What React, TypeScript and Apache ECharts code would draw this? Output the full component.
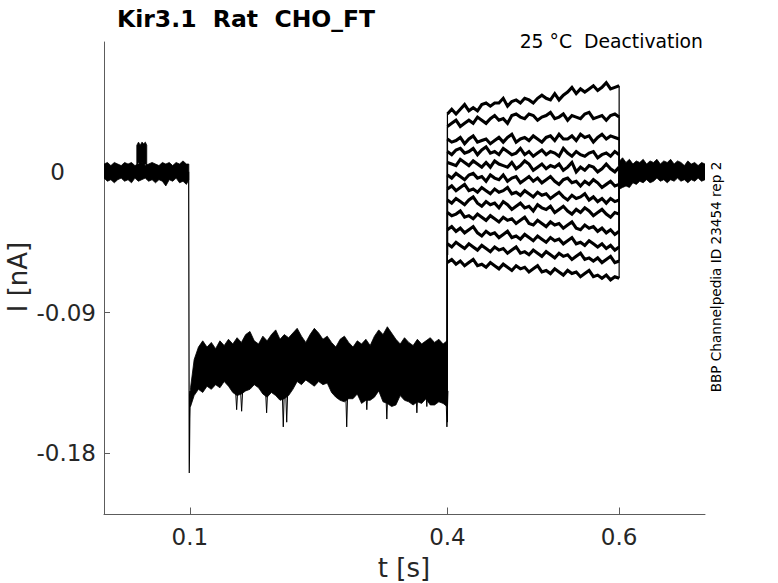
import React, { useEffect, useRef } from "react";
import * as echarts from "echarts";

// ---- axis ticks ----
const xTicks = [0.1, 0.4, 0.6];
const yTicks = [-0.18, -0.09, 0];

// ---- holding period (0 - 0.1 s): envelope of all sweeps ----
const holdTimes = [0.0, 0.004, 0.008, 0.012, 0.016, 0.02, 0.024, 0.028, 0.032, 0.036, 0.04, 0.044, 0.048, 0.052, 0.056, 0.06, 0.064, 0.068, 0.072, 0.076, 0.08, 0.084, 0.088, 0.092, 0.096, 0.0988];
const holdUpper = [0.005, 0.006, 0.004, 0.006, 0.005, 0.004, 0.006, 0.005, 0.006, 0.004, 0.005, 0.006, 0.004, 0.005, 0.006, 0.005, 0.004, 0.006, 0.005, 0.006, 0.004, 0.006, 0.005, 0.007, 0.005, 0.005];
const holdLower = [-0.004, -0.006, -0.005, -0.007, -0.005, -0.004, -0.006, -0.005, -0.007, -0.004, -0.006, -0.005, -0.004, -0.006, -0.005, -0.007, -0.005, -0.006, -0.009, -0.005, -0.006, -0.004, -0.007, -0.006, -0.008, -0.005];

// small bump during holding
const bumpTimes = [0.0382, 0.0402, 0.0422, 0.0442, 0.0462, 0.0482, 0.0498];
const bumpUpper = [0.017, 0.019, 0.017, 0.019, 0.018, 0.019, 0.017];
const bumpLower = [0.004, 0.006, 0.005, 0.006, 0.004, 0.005, 0.004];

// ---- capacitive spike at 0.1 s ----
const spikeTimes = [0.0986, 0.0993, 0.0999, 0.1006];
const spikeValues = [0.0, -0.1925, -0.158, -0.14];

// ---- hyperpolarising step (0.1 - 0.4 s): envelope of all sweeps ----
const bandTimes = [0.1008, 0.105, 0.11, 0.115, 0.12, 0.125, 0.13, 0.135, 0.14, 0.145, 0.15, 0.155, 0.16, 0.165, 0.17, 0.175, 0.18, 0.185, 0.19, 0.195, 0.2, 0.205, 0.21, 0.215, 0.22, 0.225, 0.23, 0.235, 0.24, 0.245, 0.25, 0.255, 0.26, 0.265, 0.27, 0.275, 0.28, 0.285, 0.29, 0.295, 0.3, 0.305, 0.31, 0.315, 0.32, 0.325, 0.33, 0.335, 0.34, 0.345, 0.35, 0.355, 0.36, 0.365, 0.37, 0.375, 0.38, 0.385, 0.39, 0.395, 0.3995];
const bandUpper = [-0.138, -0.12, -0.112, -0.108, -0.112, -0.109, -0.113, -0.108, -0.111, -0.107, -0.11, -0.106, -0.109, -0.104, -0.102, -0.108, -0.11, -0.105, -0.108, -0.104, -0.101, -0.107, -0.104, -0.106, -0.103, -0.1, -0.105, -0.109, -0.104, -0.1, -0.103, -0.107, -0.105, -0.109, -0.112, -0.107, -0.105, -0.109, -0.112, -0.108, -0.11, -0.107, -0.111, -0.105, -0.101, -0.104, -0.099, -0.103, -0.107, -0.11, -0.106, -0.109, -0.111, -0.107, -0.11, -0.108, -0.106, -0.109, -0.107, -0.11, -0.108];
const bandLower = [-0.15, -0.143, -0.139, -0.141, -0.137, -0.139, -0.136, -0.138, -0.134, -0.137, -0.141, -0.143, -0.142, -0.14, -0.139, -0.136, -0.138, -0.142, -0.144, -0.141, -0.143, -0.146, -0.145, -0.143, -0.139, -0.134, -0.136, -0.133, -0.135, -0.137, -0.134, -0.136, -0.135, -0.141, -0.144, -0.146, -0.147, -0.145, -0.145, -0.142, -0.148, -0.146, -0.146, -0.144, -0.14, -0.147, -0.148, -0.15, -0.149, -0.143, -0.146, -0.147, -0.149, -0.147, -0.148, -0.145, -0.149, -0.149, -0.147, -0.148, -0.15];

// single-sweep downward excursions during the step
const dipTimes = [0.1545, 0.1603, 0.1894, 0.2088, 0.2128, 0.2827, 0.3061, 0.3294, 0.3644, 0.376, 0.3994];
const dipDepths = [-0.152, -0.153, -0.154, -0.163, -0.16, -0.163, -0.152, -0.158, -0.154, -0.15, -0.163];
const dipFrom = -0.14;

// ---- deactivation test pulses (0.4 - 0.6 s): one trace per sweep ----
const stepTimes = [0.4, 0.405, 0.41, 0.415, 0.42, 0.425, 0.43, 0.435, 0.44, 0.445, 0.45, 0.455, 0.46, 0.465, 0.47, 0.475, 0.48, 0.485, 0.49, 0.495, 0.5, 0.505, 0.51, 0.515, 0.52, 0.525, 0.53, 0.535, 0.54, 0.545, 0.55, 0.555, 0.56, 0.565, 0.57, 0.575, 0.58, 0.585, 0.59, 0.595, 0.6];
const sweep1 = [0.037, 0.04, 0.037, 0.04, 0.043, 0.039, 0.041, 0.039, 0.043, 0.044, 0.042, 0.044, 0.044, 0.047, 0.042, 0.045, 0.046, 0.044, 0.047, 0.046, 0.044, 0.047, 0.049, 0.047, 0.046, 0.05, 0.046, 0.049, 0.051, 0.054, 0.05, 0.053, 0.051, 0.053, 0.055, 0.052, 0.054, 0.057, 0.053, 0.054, 0.055];
const sweep2 = [0.029, 0.031, 0.033, 0.029, 0.031, 0.033, 0.031, 0.035, 0.033, 0.031, 0.034, 0.036, 0.033, 0.034, 0.031, 0.036, 0.037, 0.035, 0.034, 0.037, 0.036, 0.033, 0.035, 0.036, 0.038, 0.034, 0.035, 0.037, 0.033, 0.036, 0.035, 0.034, 0.037, 0.038, 0.034, 0.035, 0.036, 0.033, 0.036, 0.037, 0.035];
const sweep3 = [0.021, 0.019, 0.02, 0.022, 0.018, 0.021, 0.023, 0.019, 0.02, 0.021, 0.018, 0.02, 0.022, 0.019, 0.022, 0.024, 0.019, 0.021, 0.022, 0.02, 0.023, 0.021, 0.019, 0.022, 0.023, 0.02, 0.024, 0.021, 0.021, 0.023, 0.02, 0.024, 0.022, 0.023, 0.019, 0.022, 0.024, 0.021, 0.023, 0.022, 0.021];
const sweep4 = [0.013, 0.011, 0.014, 0.015, 0.012, 0.013, 0.015, 0.011, 0.014, 0.016, 0.012, 0.013, 0.011, 0.015, 0.013, 0.011, 0.012, 0.015, 0.011, 0.013, 0.01, 0.012, 0.014, 0.011, 0.013, 0.012, 0.01, 0.015, 0.012, 0.01, 0.013, 0.011, 0.01, 0.012, 0.013, 0.009, 0.011, 0.012, 0.01, 0.013, 0.011];
const sweep5 = [0.006, 0.005, 0.004, 0.008, 0.006, 0.004, 0.007, 0.005, 0.003, 0.006, 0.003, 0.007, 0.005, 0.004, 0.003, 0.006, 0.002, 0.004, 0.007, 0.005, 0.001, 0.003, 0.005, 0.002, 0.004, 0.003, 0.005, 0.001, 0.003, 0.006, 0.0, 0.003, 0.001, 0.004, 0.003, 0.0, 0.002, 0.005, 0.002, 0.0, 0.003];
const sweep6 = [-0.002, -0.004, -0.001, -0.003, -0.005, -0.002, -0.001, -0.004, -0.003, -0.006, -0.002, -0.004, -0.005, -0.002, -0.006, -0.004, -0.003, -0.007, -0.005, -0.003, -0.006, -0.004, -0.007, -0.005, -0.003, -0.006, -0.008, -0.005, -0.004, -0.007, -0.006, -0.009, -0.006, -0.008, -0.005, -0.007, -0.01, -0.008, -0.006, -0.009, -0.008];
const sweep7 = [-0.011, -0.009, -0.012, -0.01, -0.008, -0.012, -0.011, -0.013, -0.01, -0.012, -0.014, -0.011, -0.013, -0.012, -0.01, -0.014, -0.013, -0.015, -0.012, -0.014, -0.016, -0.013, -0.015, -0.014, -0.017, -0.015, -0.013, -0.016, -0.018, -0.015, -0.017, -0.016, -0.014, -0.018, -0.016, -0.019, -0.017, -0.02, -0.017, -0.019, -0.018];
const sweep8 = [-0.018, -0.02, -0.017, -0.019, -0.021, -0.018, -0.016, -0.02, -0.022, -0.019, -0.021, -0.02, -0.023, -0.019, -0.021, -0.024, -0.022, -0.02, -0.023, -0.022, -0.025, -0.021, -0.023, -0.024, -0.022, -0.026, -0.024, -0.022, -0.025, -0.027, -0.024, -0.026, -0.023, -0.025, -0.028, -0.026, -0.024, -0.027, -0.029, -0.026, -0.027];
const sweep9 = [-0.026, -0.028, -0.027, -0.025, -0.029, -0.028, -0.03, -0.027, -0.029, -0.031, -0.028, -0.03, -0.032, -0.029, -0.031, -0.03, -0.033, -0.031, -0.029, -0.033, -0.034, -0.031, -0.033, -0.035, -0.032, -0.034, -0.033, -0.036, -0.034, -0.032, -0.036, -0.037, -0.034, -0.036, -0.035, -0.038, -0.036, -0.039, -0.037, -0.04, -0.038];
const sweep10 = [-0.037, -0.035, -0.038, -0.036, -0.039, -0.037, -0.035, -0.039, -0.041, -0.038, -0.04, -0.039, -0.042, -0.04, -0.038, -0.042, -0.041, -0.043, -0.04, -0.042, -0.044, -0.041, -0.043, -0.045, -0.042, -0.044, -0.043, -0.046, -0.044, -0.042, -0.046, -0.045, -0.047, -0.044, -0.046, -0.048, -0.046, -0.049, -0.047, -0.05, -0.048];
const sweep11 = [-0.046, -0.048, -0.045, -0.047, -0.049, -0.046, -0.048, -0.05, -0.047, -0.049, -0.051, -0.048, -0.05, -0.049, -0.052, -0.05, -0.048, -0.052, -0.051, -0.053, -0.05, -0.052, -0.054, -0.051, -0.053, -0.055, -0.052, -0.054, -0.053, -0.056, -0.054, -0.052, -0.056, -0.055, -0.057, -0.055, -0.058, -0.056, -0.054, -0.058, -0.057];
const sweep12 = [-0.058, -0.056, -0.059, -0.057, -0.06, -0.058, -0.056, -0.06, -0.059, -0.061, -0.058, -0.06, -0.062, -0.059, -0.061, -0.063, -0.06, -0.062, -0.061, -0.064, -0.062, -0.06, -0.064, -0.063, -0.065, -0.062, -0.064, -0.066, -0.063, -0.065, -0.064, -0.067, -0.065, -0.063, -0.067, -0.066, -0.068, -0.066, -0.069, -0.067, -0.068];
const sweeps = [sweep1, sweep2, sweep3, sweep4, sweep5, sweep6, sweep7, sweep8, sweep9, sweep10, sweep11, sweep12];
const preStepLevels = [-0.118, -0.125, -0.13, -0.122, -0.135, -0.128, -0.14, -0.126, -0.145, -0.132, -0.15, -0.16];
const postStepLevels = [0.004, -0.003, 0.002, -0.005, 0.001, -0.002, 0.003, -0.004, 0.0, -0.006, 0.002, -0.003];

// ---- return to holding (0.6 - 0.7 s): envelope of all sweeps ----
const recTimes = [0.6005, 0.604, 0.608, 0.612, 0.616, 0.62, 0.624, 0.628, 0.632, 0.636, 0.64, 0.644, 0.648, 0.652, 0.656, 0.66, 0.664, 0.668, 0.672, 0.676, 0.68, 0.684, 0.688, 0.692, 0.696, 0.7];
const recUpper = [0.007, 0.009, 0.006, 0.008, 0.005, 0.007, 0.006, 0.008, 0.005, 0.007, 0.006, 0.008, 0.005, 0.007, 0.006, 0.008, 0.005, 0.007, 0.006, 0.004, 0.007, 0.005, 0.006, 0.004, 0.006, 0.005];
const recLower = [-0.011, -0.01, -0.009, -0.01, -0.007, -0.008, -0.006, -0.007, -0.005, -0.007, -0.006, -0.004, -0.006, -0.005, -0.007, -0.005, -0.006, -0.004, -0.006, -0.005, -0.007, -0.005, -0.006, -0.004, -0.006, -0.005];

const FONT = '"DejaVu Sans", "Noto Sans", sans-serif';
const TEXT = "#262626";
const AXIS = "#5c5c5c";
const TICK_FONT = 23;

function bandSeries(times: number[], upper: number[], lower: number[]) {
  const data = times.map((t, i) => [t, upper[i], lower[i]]);
  return {
    type: "custom",
    silent: true,
    clip: true,
    data,
    encode: { x: 0, y: [1, 2] },
    renderItem: (params: any, api: any) => {
      if (params.dataIndex !== 0) return null;
      const pts: number[][] = [];
      for (let i = 0; i < data.length; i++) pts.push(api.coord([data[i][0], data[i][1]]));
      for (let i = data.length - 1; i >= 0; i--) pts.push(api.coord([data[i][0], data[i][2]]));
      return {
        type: "polygon",
        shape: { points: pts },
        style: { fill: "#000", stroke: "#000", lineWidth: 0.8 },
      };
    },
  };
}

function lineSeries(points: number[][], width = 1.1) {
  return {
    type: "line",
    silent: true,
    symbol: "none",
    data: points,
    lineStyle: { color: "#000", width, join: "miter" },
    z: 3,
  };
}

export default function App() {
  const ref = useRef<HTMLDivElement>(null);

  useEffect(() => {
    document.body.style.margin = "0";
    if (!ref.current) return;
    const chart = echarts.init(ref.current, null, { renderer: "svg" });

    const series: any[] = [];
    series.push(bandSeries(holdTimes, holdUpper, holdLower));
    series.push(bandSeries(bumpTimes, bumpUpper, bumpLower));
    series.push(bandSeries(bandTimes, bandUpper, bandLower));
    series.push(bandSeries(recTimes, recUpper, recLower));
    series.push(lineSeries(spikeTimes.map((t, i) => [t, spikeValues[i]]), 1.2));
    dipTimes.forEach((t, i) => {
      series.push(lineSeries([[t - 0.0012, dipFrom], [t, dipDepths[i]], [t + 0.0012, dipFrom]], 1));
    });
    sweeps.forEach((vals, k) => {
      series.push(lineSeries([[stepTimes[0], preStepLevels[k]], [stepTimes[0], vals[0]]], 1.2));
      series.push(lineSeries(stepTimes.map((t, i) => [t, vals[i]]), 3.1));
      series.push(lineSeries([[stepTimes[stepTimes.length - 1], vals[vals.length - 1]], [stepTimes[stepTimes.length - 1], postStepLevels[k]]], 1.2));
    });

    chart.setOption({
      animation: false,
      backgroundColor: "#fff",
      grid: { left: 104, right: 73, top: 42, bottom: 68.5, containLabel: false },
      xAxis: {
        type: "value",
        min: 0,
        max: 0.7,
        axisLine: { show: true, onZero: false, lineStyle: { color: AXIS, width: 1 } },
        axisTick: { show: true, inside: true, length: 7, customValues: xTicks, lineStyle: { color: AXIS, width: 1 } },
        axisLabel: { customValues: xTicks, margin: 11, fontFamily: FONT, fontSize: TICK_FONT, color: TEXT },
        splitLine: { show: false },
      },
      yAxis: {
        type: "value",
        min: -0.219,
        max: 0.083,
        axisLine: { show: true, onZero: false, lineStyle: { color: AXIS, width: 1 } },
        axisTick: { show: true, inside: true, length: 6, customValues: yTicks, lineStyle: { color: AXIS, width: 1 } },
        axisLabel: {
          customValues: yTicks,
          margin: 8,
          fontFamily: FONT,
          fontSize: TICK_FONT,
          color: TEXT,
          formatter: (v: number) => (v === 0 ? "{z|0}" : String(v)),
          rich: { z: { fontFamily: FONT, fontSize: TICK_FONT, color: TEXT, padding: [0, 31, 0, 0] } },
        },
        splitLine: { show: false },
      },
      graphic: [
        {
          type: "text",
          x: 117,
          y: 19,
          style: { text: "Kir3.1  Rat  CHO_FT", font: `bold 23.5px ${FONT}`, fill: "#000", align: "left", verticalAlign: "middle" },
        },
        {
          type: "text",
          x: 703,
          y: 41,
          style: { text: "25 °C  Deactivation", font: `18.8px ${FONT}`, fill: "#000", align: "right", verticalAlign: "middle" },
        },
        {
          type: "text",
          x: 716,
          y: 277,
          rotation: Math.PI / 2,
          style: { text: "BBP Channelpedia ID 23454 rep 2", font: `13.6px ${FONT}`, fill: "#000", align: "center", verticalAlign: "middle" },
        },
        {
          type: "text",
          x: 18,
          y: 277,
          rotation: Math.PI / 2,
          style: { text: "I [nA]", font: `26px ${FONT}`, fill: TEXT, align: "center", verticalAlign: "middle" },
        },
        {
          type: "text",
          x: 404,
          y: 568,
          style: { text: "t [s]", font: `26px ${FONT}`, fill: TEXT, align: "center", verticalAlign: "middle" },
        },
      ],
      series,
    });

    return () => chart.dispose();
  }, []);

  return <div ref={ref} style={{ width: 778, height: 583 }} />;
}
